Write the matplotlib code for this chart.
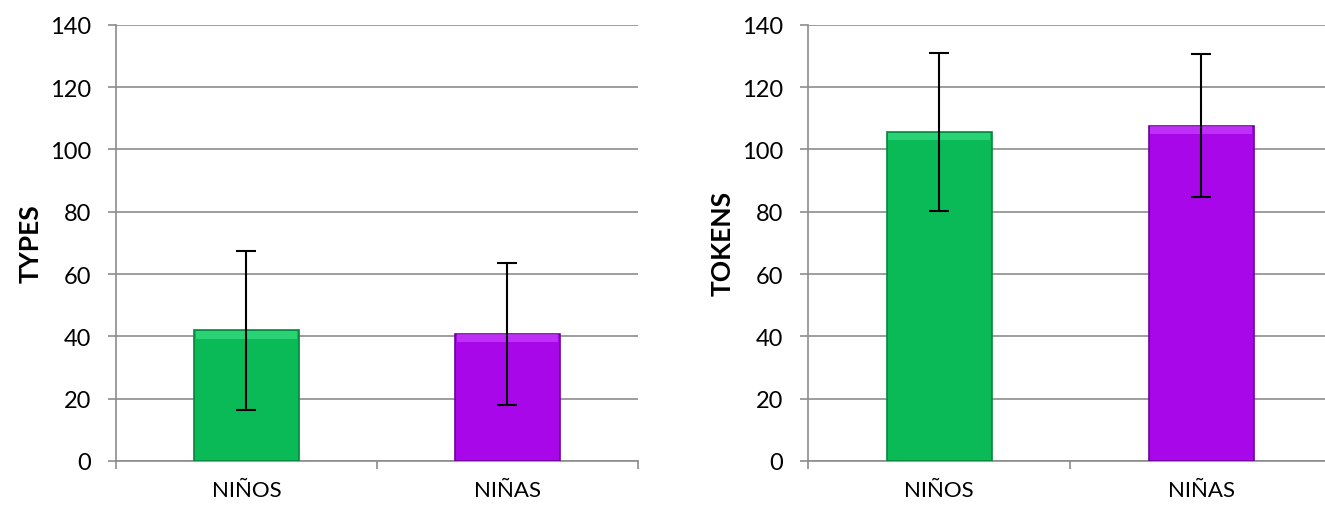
import matplotlib.pyplot as plt
import numpy as np

plt.rcParams['font.family'] = ['Lato', 'DejaVu Sans']

groups = ['NIÑOS', 'NIÑAS']
types_mean = [41.9, 40.8]
types_err = [25.5, 22.8]
tokens_mean = [105.6, 107.6]
tokens_err = [25.4, 23.0]

face_colors = ['#0ABA57', '#A807EA']
edge_colors = ['#05863C', '#6E0099']
top_colors = ['#3FE58A', '#CF4CFF']
grid_c = '#8C8C8C'


def excel_bar(ax, means, errs, ylabel):
    x = np.arange(len(groups))
    width = 0.4
    ax.bar(x, means, width, color=face_colors, edgecolor=edge_colors, linewidth=1.2, zorder=3)
    # lighter bevel strip along the top of each bar
    ax.bar(x, [2.4] * len(x), width * 0.97, bottom=np.array(means) - 2.6,
           color=top_colors, linewidth=0, alpha=0.6, zorder=4)
    ax.errorbar(x, means, yerr=errs, fmt='none', ecolor='black', elinewidth=1.5,
                capsize=7, capthick=1.5, zorder=5)

    ax.set_xlim(-0.5, len(groups) - 0.5)
    ax.set_ylim(0, 140)
    ax.set_yticks(np.arange(0, 141, 20))
    ax.yaxis.grid(True, color=grid_c, linewidth=1.2, zorder=0)
    ax.set_axisbelow(True)

    ax.set_xticks(np.arange(-0.5, len(groups), 1.0))
    ax.set_xticklabels([])
    ax.set_xticks(x, minor=True)
    ax.set_xticklabels(groups, minor=True)
    ax.tick_params(axis='x', which='minor', length=0, labelsize=16, pad=14)
    ax.tick_params(axis='x', which='major', length=6, color=grid_c, width=1.2)
    ax.tick_params(axis='y', length=6, color=grid_c, width=1.2, labelsize=17, pad=12)

    for s in ['top', 'right']:
        ax.spines[s].set_visible(False)
    for s in ['left', 'bottom']:
        ax.spines[s].set_color(grid_c)
        ax.spines[s].set_linewidth(1.2)
    ax.set_ylabel(ylabel, fontsize=19, fontweight='bold', labelpad=5)


fig = plt.figure(figsize=(13.25, 5.06), dpi=100)
ax1 = fig.add_axes([0.0875, 0.087, 0.394, 0.862])
ax2 = fig.add_axes([0.61, 0.087, 0.3955, 0.862])

excel_bar(ax1, types_mean, types_err, 'TYPES')
excel_bar(ax2, tokens_mean, tokens_err, 'TOKENS')

fig.savefig('out.png', dpi=100)
